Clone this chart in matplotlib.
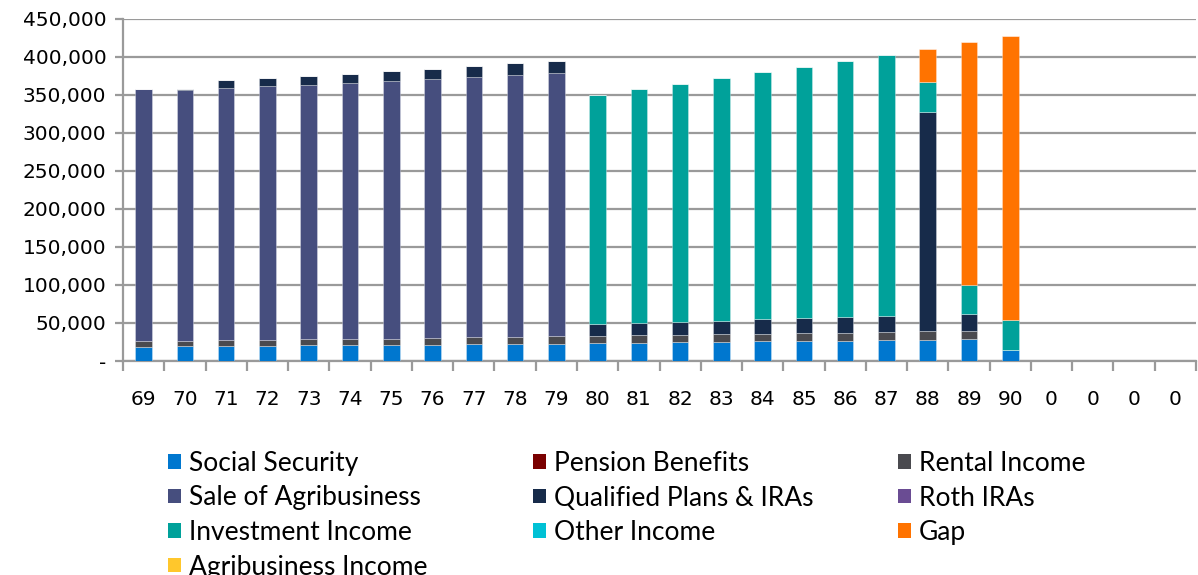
import matplotlib.pyplot as plt
from matplotlib.patches import Patch
from matplotlib.ticker import FuncFormatter, MultipleLocator
import numpy as np

# ages (last four columns are empty placeholders shown as "0")
ages = ['69', '70', '71', '72', '73', '74', '75', '76', '77', '78', '79',
        '80', '81', '82', '83', '84', '85', '86', '87', '88', '89', '90',
        '0', '0', '0', '0']

# values in thousands
social_security = [18.8, 19.2, 19.6, 20.2, 20.5, 20.9, 21.3, 21.6, 22.2, 22.8, 23.0,
                   23.3, 24.0, 24.5, 25.0, 25.7, 26.2, 26.6, 27.4, 27.9, 28.4, 14.1,
                   0, 0, 0, 0]
pension = [0] * 26
rental_income = [7.1, 7.1, 7.5, 7.3, 7.9, 7.7, 8.3, 8.8, 8.8, 8.5, 9.3,
                 9.6, 10.1, 10.1, 10.5, 9.8, 10.6, 10.6, 10.8, 11.6, 11.1, 0,
                 0, 0, 0, 0]
sale_agribusiness = [331.8, 330.4, 332.2, 334.0, 335.2, 337.4, 338.8, 340.5, 342.7, 345.3, 346.6,
                     0, 0, 0, 0, 0, 0, 0, 0, 0, 0, 0,
                     0, 0, 0, 0]
qualified = [0, 1.8, 10.1, 10.9, 11.4, 12.2, 13.1, 13.5, 14.0, 14.9, 15.3,
             16.0, 16.1, 17.0, 17.4, 19.2, 19.2, 20.2, 20.4, 288.1, 22.6, 0,
             0, 0, 0, 0]
roth = [0] * 26
investment = [0, 0, 0, 0, 0, 0, 0, 0, 0, 0, 0,
              301.5, 307.3, 313.2, 319.0, 325.5, 331.1, 337.2, 343.9, 39.4, 38.5, 39.3,
              0, 0, 0, 0]
other_income = [0] * 26
gap = [0, 0, 0, 0, 0, 0, 0, 0, 0, 0, 0,
       0, 0, 0, 0, 0, 0, 0, 0, 43.7, 318.5, 374.4,
       0, 0, 0, 0]
agri_income = [0] * 26

series = [
    ('Social Security', social_security, '#0077CF'),
    ('Pension Benefits', pension, '#7A0000'),
    ('Rental Income', rental_income, '#4A4A4F'),
    ('Sale of Agribusiness', sale_agribusiness, '#464E7E'),
    ('Qualified Plans & IRAs', qualified, '#172B4A'),
    ('Roth IRAs', roth, '#6A4C93'),
    ('Investment Income', investment, '#00A19A'),
    ('Other Income', other_income, '#00C1D5'),
    ('Gap', gap, '#FF7300'),
    ('Agribusiness Income', agri_income, '#FFC72C'),
]

fig = plt.figure(figsize=(11.98, 5.75), dpi=100)
ax = fig.add_axes([123 / 1198, 1 - 361 / 575, 1073 / 1198, 342 / 575])

x = np.arange(len(ages))
bottom = np.zeros(len(ages))
for name, vals, col in series:
    v = np.array(vals) * 1000
    ax.bar(x, v, 0.4, bottom=bottom, color=col,
           edgecolor=(1, 1, 1, 0.35), linewidth=0.6, zorder=3)
    bottom += v

grid_col = '#9A9A9A'
ax.set_xlim(-0.5, len(ages) - 0.5)
ax.set_ylim(0, 450000)
ax.yaxis.set_major_locator(MultipleLocator(50000))
ax.yaxis.set_major_formatter(FuncFormatter(lambda v, p: '-' if v == 0 else f'{v:,.0f}'))
ax.grid(axis='y', color=grid_col, linewidth=1.6, zorder=0)
for s in ['top', 'right']:
    ax.spines[s].set_visible(False)
for s in ['left', 'bottom']:
    ax.spines[s].set_color(grid_col)
    ax.spines[s].set_linewidth(1.6)

ax.set_xticks(x)
ax.set_xticklabels(ages)
ax.set_xticks(np.arange(len(ages) + 1) - 0.5, minor=True)
ax.tick_params(axis='x', which='major', length=0, pad=21, labelsize=14.5)
ax.tick_params(axis='x', which='minor', length=7, width=1.6, color=grid_col)
ax.tick_params(axis='y', length=6, width=1.6, color=grid_col, labelsize=14.5, pad=6)

# legend in three columns laid out like the original (row by row)
cols = [[0, 3, 6, 9], [1, 4, 7], [2, 5, 8]]
xpos = [168, 533, 898]
for c, idx in enumerate(cols):
    handles = [Patch(facecolor=series[i][2], label=series[i][0]) for i in idx]
    fig.legend(handles=handles, loc='upper left',
               bbox_to_anchor=(xpos[c] / 1198, 1 - 451 / 575),
               frameon=False, prop={'family': 'Lato', 'size': 19},
               handlelength=0.48, handleheight=0.48, handletextpad=0.3,
               labelspacing=0.36, borderpad=0, borderaxespad=0)

fig.savefig('out.png', dpi=100)
